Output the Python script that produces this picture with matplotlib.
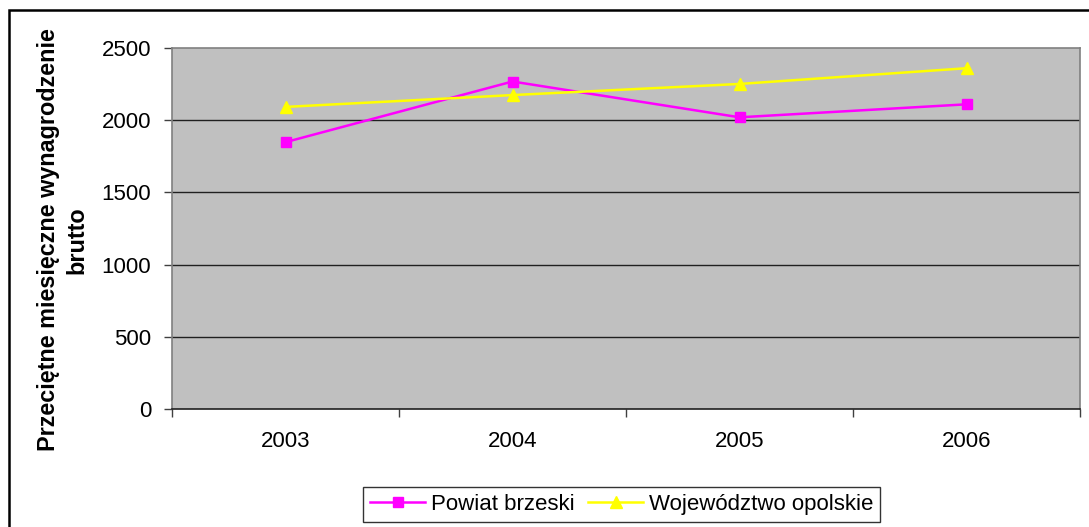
import matplotlib
matplotlib.use("Agg")
import matplotlib.pyplot as plt
from matplotlib.patches import Rectangle
from matplotlib.ticker import FixedLocator

years = ["2003", "2004", "2005", "2006"]
powiat_brzeski = [1848, 2268, 2020, 2110]
wojewodztwo_opolskie = [2092, 2174, 2251, 2360]
series_names = ["Powiat brzeski", "Województwo opolskie"]
yticks = [0, 500, 1000, 1500, 2000, 2500]

plt.rcParams['font.family'] = ['Liberation Sans', 'DejaVu Sans']
FS = 16

fig = plt.figure(figsize=(10.89, 5.27), dpi=100)
fig.patch.set_facecolor("white")
ax = fig.add_axes([172/1089, 1-409/527, (1080-172)/1089, (409-48)/527])
ax.set_facecolor("#C0C0C0")

x = list(range(len(years)))
ax.plot(x, powiat_brzeski, color="#FF00FF", lw=1.8, marker="s", ms=7,
        mfc="#FF00FF", mec="#FF00FF", label=series_names[0], zorder=3)
ax.plot(x, wojewodztwo_opolskie, color="#FFFF00", lw=1.8, marker="^", ms=8,
        mfc="#FFFF00", mec="#FFFF00", label=series_names[1], zorder=3)

ax.set_xlim(-0.5, len(years)-0.5)
ax.set_ylim(0, 2500)
ax.set_yticks(yticks)
ax.set_yticklabels([str(v) for v in yticks], fontsize=FS)
ax.set_xticks(x)
ax.set_xticklabels(years, fontsize=FS)
ax.xaxis.set_minor_locator(FixedLocator([i - 0.5 for i in range(len(years)+1)]))
ax.tick_params(axis="x", which="major", length=0, pad=16)
ax.tick_params(axis="x", which="minor", length=6, width=1, color="#404040", direction="out")
ax.tick_params(axis="y", length=6, width=1, color="#404040", direction="out", pad=9)

for v in yticks[1:-1]:
    ax.axhline(v, color="#202020", lw=1, zorder=1)
for s in ["top", "right", "left"]:
    ax.spines[s].set_color("#808080")
    ax.spines[s].set_linewidth(1.2)
ax.spines["bottom"].set_color("#202020")
ax.spines["bottom"].set_linewidth(1.2)

fig.text(62.5/1089, 1-240/527, "Przeciętne miesięczne wynagrodzenie\nbrutto",
         rotation=90, ha="center", va="center", fontsize=16.8, fontweight="bold",
         multialignment="center", linespacing=1.29)

leg = fig.legend(loc="center", bbox_to_anchor=(621.5/1089, 1-504.5/527),
                 ncol=2, fontsize=FS, frameon=True, fancybox=False,
                 edgecolor="black", handlelength=2.5, handletextpad=0.25,
                 columnspacing=0.6, borderpad=0.3, borderaxespad=0)
leg.get_frame().set_linewidth(1.0)

fig.patches.append(Rectangle((9/1089, -0.2), 1.2, 1-10/527+0.2,
                             transform=fig.transFigure, fill=False,
                             edgecolor="black", lw=1.8))

fig.savefig("out.png", dpi=100, facecolor="white")
